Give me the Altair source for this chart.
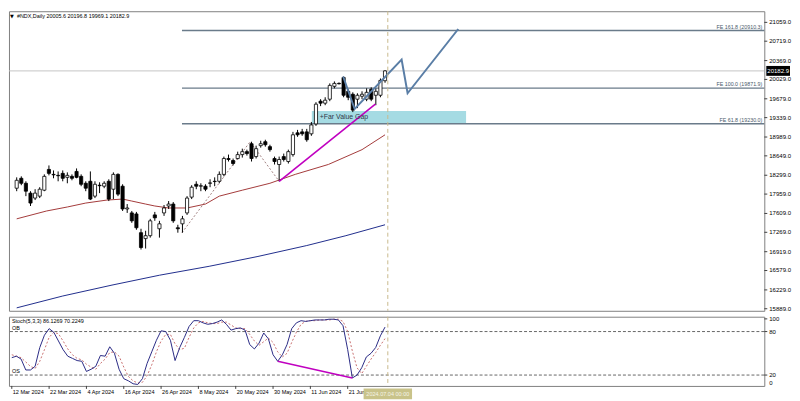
import altair as alt
import pandas as pd

# ---------------- data ----------------
bar_index = list(range(81))
opens = [18065, 18244, 18154, 17976, 17887, 17922, 18029, 18404, 18315, 18297,
         18333, 18261, 18279, 18368, 18279, 18154, 18190, 17922, 18119, 18101,
         18190, 18047, 18315, 18101, 17690, 17619, 17601, 17262, 17155, 17208,
         17583, 17333, 17619, 17744, 17779, 17351, 17422, 17619, 17904, 18136,
         18101, 18101, 18154, 18190, 18190, 18315, 18601, 18565, 18601, 18672,
         18725, 18868, 18636, 18833, 18904, 18815, 18601, 18493, 18636, 18547,
         18672, 19065, 19082, 19082, 19047, 19225, 19636, 19600, 19672, 19904,
         19957, 20064, 19814, 19761, 19672, 19725, 19672, 19850, 19743, 19743,
         20005.6]
highs = [18261, 18279, 18190, 18011, 18047, 18083, 18315, 18476, 18386, 18368,
         18386, 18351, 18315, 18422, 18315, 18190, 18368, 18190, 18172, 18190,
         18226, 18351, 18333, 18136, 17779, 17654, 17637, 17333, 17297, 17512,
         17637, 17476, 17762, 17833, 17815, 17405, 17565, 17922, 18119, 18190,
         18154, 18136, 18226, 18261, 18368, 18636, 18672, 18601, 18725, 18779,
         18761, 18904, 18833, 18922, 18940, 18850, 18636, 18636, 18690, 18761,
         19082, 19118, 19136, 19136, 19261, 19618, 19672, 19707, 19957, 19993,
         19975, 20082, 19850, 19796, 19779, 19814, 19868, 19886, 19868, 20046,
         20196.8]
lows = [18011, 18119, 17922, 17744, 17851, 17887, 18011, 18297, 18244, 18190,
        18190, 18154, 18208, 18244, 18101, 18011, 17851, 17887, 17976, 18065,
        17833, 17869, 17922, 17654, 17619, 17440, 17315, 16958, 16976, 17173,
        17476, 17173, 17565, 17690, 17440, 17262, 17262, 17583, 17869, 18047,
        18011, 18011, 18083, 18101, 18154, 18279, 18547, 18476, 18583, 18618,
        18654, 18547, 18601, 18797, 18815, 18725, 18493, 18190, 18547, 18511,
        18636, 18993, 19011, 18904, 19011, 19190, 19547, 19564, 19636, 19868,
        19939, 19707, 19654, 19439, 19511, 19672, 19636, 19636, 19564, 19707,
        19969.1]
closes = [18208, 18154, 18011, 17797, 17976, 18047, 18279, 18333, 18306, 18290,
          18244, 18297, 18244, 18261, 18136, 18065, 17869, 18136, 18110, 18154,
          17869, 18315, 17958, 17690, 17708, 17476, 17351, 16994, 17208, 17476,
          17530, 17422, 17708, 17779, 17476, 17333, 17512, 17887, 18083, 18101,
          18110, 18047, 18160, 18185, 18315, 18601, 18583, 18511, 18672, 18725,
          18690, 18601, 18779, 18868, 18850, 18761, 18547, 18583, 18583, 18725,
          19029, 19029, 19047, 18940, 19207, 19582, 19600, 19654, 19921, 19957,
          19950, 19743, 19707, 19475, 19743, 19761, 19796, 19672, 19814, 20011,
          20182.9]

date_tick_index = [0, 8, 16, 24, 32, 40, 48, 56, 64, 72]
date_tick_labels = ["12 Mar 2024", "22 Mar 2024", "4 Apr 2024", "16 Apr 2024",
                    "26 Apr 2024", "8 May 2024", "20 May 2024", "30 May 2024",
                    "11 Jun 2024", "21 Jun 2024"]

price_ticks = [21059.0, 20719.0, 20369.0, 20029.0, 19679.0, 19339.0, 18989.0,
               18649.0, 18299.0, 17959.0, 17609.0, 17269.0, 16919.0, 16579.0,
               16229.0, 15889.0]

ma_red_index = [0, 6.5, 11, 15, 19.6, 23, 25, 28, 30, 33, 37, 41, 44, 49, 55, 60.5, 67.7, 75, 80]
ma_red_values = [17512, 17654, 17726, 17797, 17851, 17869, 17833, 17779, 17744, 17708,
                 17708, 17779, 17922, 18029, 18154, 18315, 18494, 18761, 19029]

ma_blue_index = [0, 10, 20.7, 31, 41.8, 52.4, 63, 71.5, 80]
ma_blue_values = [15905, 16119, 16316, 16494, 16655, 16833, 17030, 17208, 17405]

fibo_names = ["FE 161.8 (20910.3)", "FE 100.0 (19871.9)", "FE 61.8 (19230.0)"]
fibo_prices = [20910.3, 19871.9, 19230.0]
fibo_start_index = 35.9

fvg_index = [64.1, 97.6]
fvg_prices = [19230.0, 19460.0]
fvg_label = "+Far Value Gap"

forecast_index = [70.9, 73.4, 83.6, 84.9, 95.9]
forecast_prices = [20082, 19495, 20386, 19779, 20939]

trend_index = [57, 77.9]
trend_prices = [18190, 19582]

zigzag_index = [35.9, 50.7, 57]
zigzag_prices = [17262, 18904, 18190]

stoch_k = [44, 46, 42, 27, 27, 32, 58, 75, 84, 79,
           67, 55, 46, 43, 40, 39, 25, 28, 32, 47,
           46, 59, 50, 28, 15, 12, 8, 7, 15, 36,
           52, 68, 81, 80, 68, 40, 58, 72, 87, 95,
           95, 92, 90, 91, 93, 96, 90, 82, 84, 85,
           82, 62, 56, 64, 78, 70, 48, 39, 48, 62,
           84, 92, 95, 94, 95, 96, 96, 96, 97, 97,
           96, 88, 55, 16, 20, 30, 45, 50, 58, 74,
           86.1269]
stoch_d = [48, 46, 44, 38, 32, 29, 39, 55, 72, 79,
           77, 67, 56, 48, 43, 41, 35, 31, 28, 36,
           42, 51, 52, 46, 31, 18, 12, 9, 10, 19,
           34, 52, 67, 76, 76, 63, 55, 57, 72, 85,
           92, 94, 92, 91, 91, 93, 93, 89, 85, 84,
           84, 76, 67, 61, 66, 71, 65, 52, 45, 50,
           65, 79, 90, 94, 95, 95, 96, 96, 96, 97,
           97, 94, 80, 53, 30, 22, 32, 42, 51, 61,
           70.2249]
stoch_levels = [80, 20]
stoch_level_names = ["OB", "OS"]
stoch_label_values = [97.5, 80, 20]
stoch_label_texts = ["100", "80", "20"]
stoch_zero_label = "0"
stoch_div_index = [57, 73]
stoch_div_values = [39, 16]

last_price = 20182.9
cursor_index = 80.6
cursor_label = "2024.07.04 00:00"
header_text = "#NDX,Daily  20005.6 20196.8 19969.1 20182.9"
stoch_header = "Stoch(5,3,3) 86.1269 70.2249"

# ---------------- layout ----------------
W = 764
H_MAIN = 303
H_STOCH = 70
FONT = "Liberation Sans"
FS_AXIS = 6.1
FS_SMALL = 5.5

x_scale = alt.Scale(domain=[-0.6, 161.3], nice=False, zero=False)
y_scale = alt.Scale(domain=[15852, 21260], nice=False, zero=False)
s_scale = alt.Scale(domain=[5, 100.45], nice=False, zero=False)


def X(field):
    return alt.X(field, scale=x_scale, axis=None)


def Y(field):
    return alt.Y(field, scale=y_scale, axis=None)


def S(field):
    return alt.Y(field, scale=s_scale, axis=None)


ohlc = pd.DataFrame({"i": bar_index, "o": opens, "h": highs, "l": lows, "c": closes})

wicks = alt.Chart(ohlc).mark_rule(color="black", strokeWidth=1).encode(
    x=X("i:Q"), y=Y("l:Q"), y2="h:Q")
bodies = alt.Chart(ohlc).mark_bar(size=3.2, stroke="black", strokeWidth=0.8).encode(
    x=X("i:Q"), y=Y("o:Q"), y2="c:Q",
    fill=alt.condition("datum.c >= datum.o", alt.value("white"), alt.value("black")),
)

fvg_df = pd.DataFrame({"x0": [fvg_index[0]], "x1": [fvg_index[1]],
                       "y0": [fvg_prices[0]], "y1": [fvg_prices[1]], "t": [fvg_label]})
fvg = alt.Chart(fvg_df).mark_rect(color="#a5dbe3").encode(
    x=X("x0:Q"), x2="x1:Q", y=Y("y0:Q"), y2="y1:Q")
fvg_text = alt.Chart(fvg_df).transform_calculate(ym="(datum.y0 + datum.y1) / 2").mark_text(
    align="left", baseline="middle", dx=8, font=FONT, fontSize=7, color="#303848").encode(
    x=X("x0:Q"), y=Y("ym:Q"), text="t:N")

price_line_df = pd.DataFrame({"p": [last_price], "t": [f"{last_price:.1f}"]})
price_line = alt.Chart(price_line_df).mark_rule(color="#c4c4c4", strokeWidth=1).encode(
    y=Y("p:Q"))

fibo_df = pd.DataFrame({"name": fibo_names, "p": fibo_prices, "x0": [fibo_start_index] * 3})
fibo_lines = alt.Chart(fibo_df).mark_rule(color="#6a7b8a", strokeWidth=1.5).encode(
    x=X("x0:Q"), x2=alt.value(W), y=Y("p:Q"))
fibo_text = alt.Chart(fibo_df).mark_text(
    align="right", baseline="bottom", dy=-1, font=FONT, fontSize=5.4, color="#4a5a6a").encode(
    x=alt.value(W - 2), y=Y("p:Q"), text="name:N")

ma_red = alt.Chart(pd.DataFrame({"i": ma_red_index, "v": ma_red_values})).mark_line(
    color="#a33a3a", strokeWidth=1).encode(x=X("i:Q"), y=Y("v:Q"))
ma_blue = alt.Chart(pd.DataFrame({"i": ma_blue_index, "v": ma_blue_values})).mark_line(
    color="#1f2d8c", strokeWidth=1).encode(x=X("i:Q"), y=Y("v:Q"))

zigzag = alt.Chart(pd.DataFrame({"i": zigzag_index, "v": zigzag_prices})).mark_line(
    color="#a08080", strokeWidth=1, strokeDash=[2, 2]).encode(x=X("i:Q"), y=Y("v:Q"))
trend = alt.Chart(pd.DataFrame({"i": trend_index, "v": trend_prices})).mark_line(
    color="#c000c0", strokeWidth=1.6).encode(x=X("i:Q"), y=Y("v:Q"))
forecast = alt.Chart(pd.DataFrame({"i": forecast_index, "v": forecast_prices,
                                   "k": list(range(len(forecast_index)))})).mark_line(
    color="#5a7ea6", strokeWidth=2).encode(x=X("i:Q"), y=Y("v:Q"), order="k:Q")

cursor_df = pd.DataFrame({"i": [cursor_index], "t": [cursor_label]})
cursor_main = alt.Chart(cursor_df).mark_rule(color="#c8b98c", strokeWidth=1, strokeDash=[4, 3]).encode(
    x=X("i:Q"))

# right price scale drawn as text + ticks
ptick_df = pd.DataFrame({"p": price_ticks, "t": [f"{v:.1f}" for v in price_ticks]})
price_ticks_marks = alt.Chart(ptick_df).mark_rule(color="#404040", strokeWidth=1).encode(
    x=alt.value(W), x2=alt.value(W + 3), y=Y("p:Q"))
price_labels = alt.Chart(ptick_df).mark_text(
    align="left", baseline="middle", font=FONT, fontSize=FS_AXIS, color="black").encode(
    x=alt.value(W + 5), y=Y("p:Q"), text="t:N")

box_path = "M-1,-0.4167H1V0.4167H-1Z"
price_box = alt.Chart(price_line_df).mark_point(
    shape=box_path, size=576, filled=True, color="black", opacity=1).encode(
    x=alt.value(W + 14), y=Y("p:Q"))
price_box_text = alt.Chart(price_line_df).mark_text(
    font=FONT, fontSize=FS_AXIS, color="white", baseline="middle").encode(
    x=alt.value(W + 14), y=Y("p:Q"), text="t:N")

header_df = pd.DataFrame({"t": [header_text]})
header = alt.Chart(header_df).mark_text(
    align="left", baseline="middle", font=FONT, fontSize=FS_SMALL, color="black").encode(
    x=alt.value(8), y=alt.value(5), text="t:N")
header_tri = alt.Chart(pd.DataFrame({"t": ["\u25bc"]})).mark_text(
    align="left", baseline="middle", font="DejaVu Sans", fontSize=5, color="black").encode(
    x=alt.value(1), y=alt.value(5), text="t:N")

main = alt.layer(
    fvg, price_line, fibo_lines, ma_blue, ma_red, zigzag, wicks, bodies,
    trend, forecast, fvg_text, fibo_text, cursor_main, price_ticks_marks, price_labels,
    price_box, price_box_text, header, header_tri,
).properties(width=W, height=H_MAIN)

# ---------------- stochastic ----------------
stoch_df = pd.DataFrame({"i": bar_index, "k": stoch_k, "d": stoch_d})

k_line = alt.Chart(stoch_df).mark_line(color="#2b2b85", strokeWidth=1).encode(
    x=X("i:Q"), y=S("k:Q"))
d_line = alt.Chart(stoch_df).mark_line(color="#c87070", strokeWidth=1, strokeDash=[2, 2]).encode(
    x=X("i:Q"), y=S("d:Q"))
lvl_df = pd.DataFrame({"v": stoch_levels, "t": stoch_level_names})
levels = alt.Chart(lvl_df).mark_rule(
    color="#404040", strokeWidth=0.8, strokeDash=[3, 2]).encode(y=S("v:Q"))
level_text = alt.Chart(lvl_df).mark_text(
    align="left", baseline="bottom", dy=-1, font=FONT, fontSize=FS_SMALL, color="black").encode(
    x=alt.value(3), y=S("v:Q"), text="t:N")
div_line = alt.Chart(pd.DataFrame({"i": stoch_div_index, "v": stoch_div_values})).mark_line(
    color="#c000c0", strokeWidth=1.6).encode(x=X("i:Q"), y=S("v:Q"))
stoch_title = alt.Chart(pd.DataFrame({"t": [stoch_header]})).mark_text(
    align="left", baseline="middle", font=FONT, fontSize=FS_SMALL, color="black").encode(
    x=alt.value(3), y=alt.value(4), text="t:N")

slab_df = pd.DataFrame({"v": stoch_label_values, "t": stoch_label_texts})
stoch_ticks = alt.Chart(slab_df).mark_rule(color="#404040", strokeWidth=1).encode(
    x=alt.value(W), x2=alt.value(W + 3), y=S("v:Q"))
stoch_labels = alt.Chart(slab_df).mark_text(
    align="left", baseline="middle", font=FONT, fontSize=FS_AXIS, color="black").encode(
    x=alt.value(W + 5), y=S("v:Q"), text="t:N")
stoch_zero = alt.Chart(pd.DataFrame({"t": [stoch_zero_label]})).mark_text(
    align="left", baseline="bottom", font=FONT, fontSize=FS_AXIS, color="black").encode(
    x=alt.value(W + 5), y=alt.value(H_STOCH), text="t:N")

date_df = pd.DataFrame({"i": date_tick_index, "t": date_tick_labels})
date_ticks = alt.Chart(date_df).mark_rule(color="#404040", strokeWidth=1).encode(
    x=X("i:Q"), y=alt.value(H_STOCH), y2=alt.value(H_STOCH + 3))
date_labels = alt.Chart(date_df).mark_text(
    align="left", baseline="top", dx=1, font=FONT, fontSize=5.6, color="black").encode(
    x=X("i:Q"), y=alt.value(H_STOCH + 4), text="t:N")

cursor_stoch = alt.Chart(cursor_df).mark_rule(color="#c8b98c", strokeWidth=1, strokeDash=[4, 3]).encode(
    x=X("i:Q"))
cursor_box = alt.Chart(cursor_df).mark_point(
    shape="M-1,-0.2245H1V0.2245H-1Z", size=2401, filled=True, color="#c9c38a", opacity=1).encode(
    x=X("i:Q"), y=alt.value(H_STOCH + 8))
cursor_text = alt.Chart(cursor_df).mark_text(
    font=FONT, fontSize=5.6, color="#f4f4e8", baseline="middle").encode(
    x=X("i:Q"), y=alt.value(H_STOCH + 8), text="t:N")

stoch = alt.layer(
    levels, d_line, k_line, div_line, level_text, stoch_title, cursor_stoch,
    stoch_ticks, stoch_labels, stoch_zero, date_ticks, date_labels, cursor_box, cursor_text,
).properties(width=W, height=H_STOCH)

chart = alt.vconcat(main, stoch, spacing=2).properties(
    padding=0, background="white"
).configure_view(stroke="#808080", strokeWidth=1)

chart.save("out.html", embed_options={"renderer": "svg", "actions": False})
